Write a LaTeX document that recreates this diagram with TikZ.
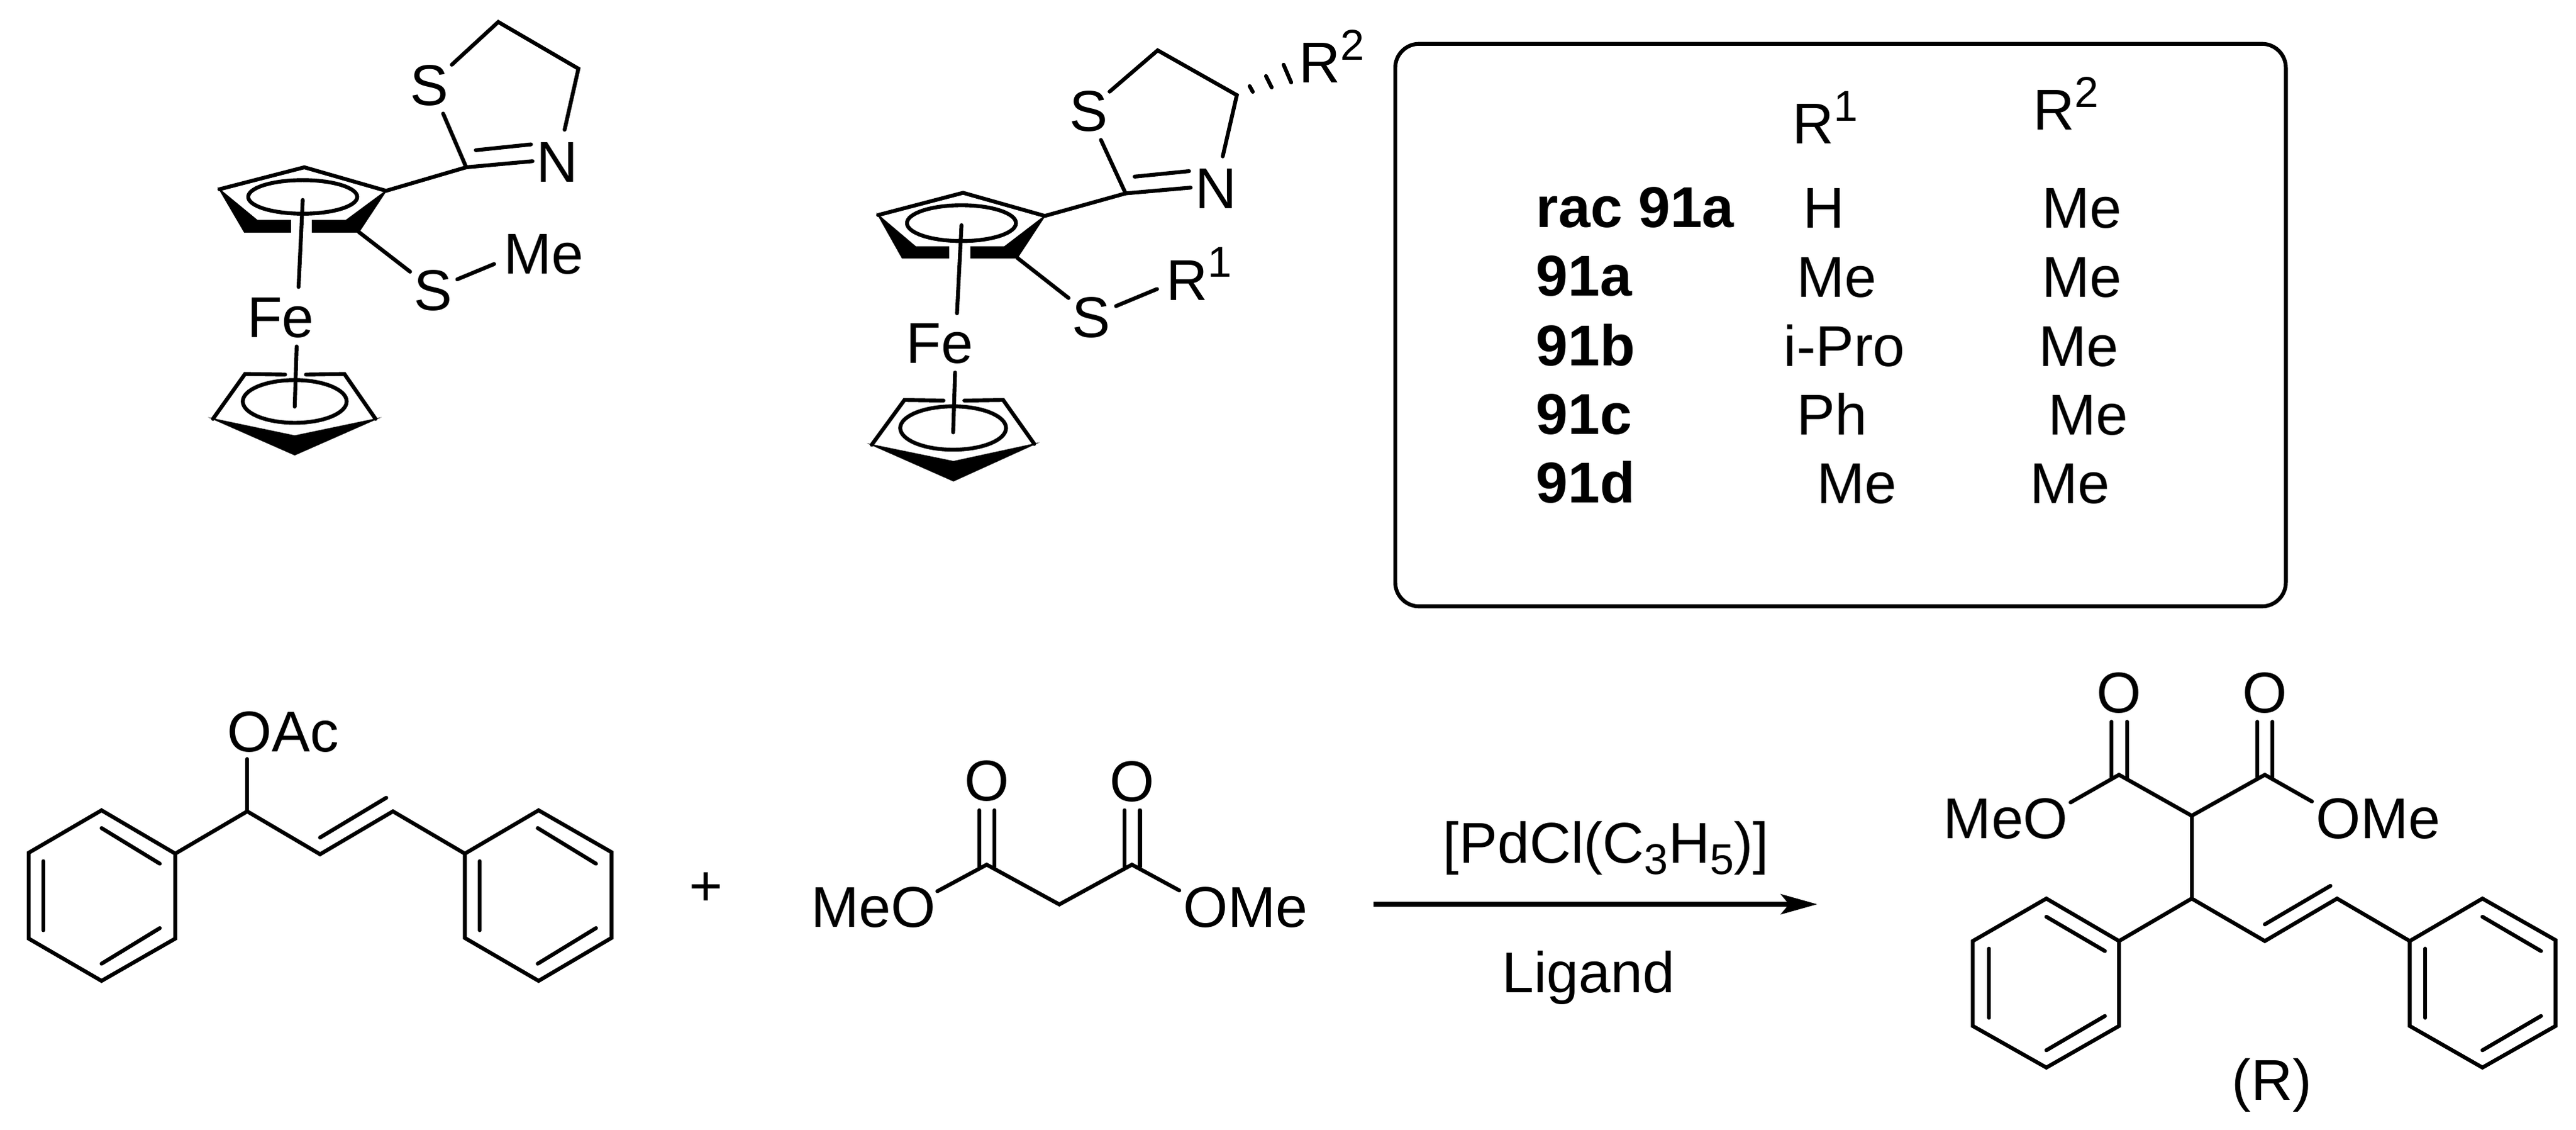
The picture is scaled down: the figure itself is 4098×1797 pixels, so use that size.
\documentclass[tikz,border=0pt]{standalone}
\usepackage{fontspec}
\setmainfont{Liberation Sans}
\usetikzlibrary{arrows.meta}
\newcommand\chemsup[1]{\raisebox{10.4pt}{\fontsize{19.5}{20}\selectfont #1}}
\newcommand\chemsub[1]{\raisebox{-5.2pt}{\fontsize{19.5}{20}\selectfont #1}}
\tikzset{
  bond/.style={line width=1.75pt,line cap=round,line join=miter,draw=black},
  wedge/.style={fill=black,draw=black,line width=0.5pt,line join=miter},
  atom/.style={font=\fontsize{26}{30}\selectfont,inner sep=0pt,anchor=base,text=black},
  lab/.style={atom,anchor=base west},
  blab/.style={lab,font=\fontsize{26}{30}\selectfont\bfseries},
  panel/.style={draw=black,line width=1.75pt,rounded corners=0.38cm},
  rxn/.style={draw=black,line width=2pt,-{Stealth[length=0.58cm,width=0.32cm,inset=0.13cm]}}
}
\begin{document}
\begin{tikzpicture}[x=0.01cm,y=-0.01cm]
\useasboundingbox (0,0) rectangle (4098,1797);
\fill[white] (0,0) rectangle (4098,1797);

% ---------- ferrocene 1
\begin{scope}[x=0.005102cm,y=-0.004847cm,shift={(2.8cm,0cm)}]
\coordinate (a1) at (135,620); \coordinate (a2) at (400,548); \coordinate (a3) at (655,625);
\coordinate (a4) at (570,760); \coordinate (a5) at (213,760);
\coordinate (c2) at (905,548); \coordinate (ch1) at (1005,72); \coordinate (ch2) at (1255,225);
\node[atom] (af) at (326,1105) {Fe};
\node[atom] (as1) at (790,345) {S};
\node[atom] (an) at (1190,597) {N};
\node[atom] (as2) at (802,1017) {S};
\node[atom] (ame) at (1147,898) {Me};
\fill[wedge] (a1) -- (a5) -- (357,760) -- (357,722) -- (253,722) -- cycle;
\fill[wedge] (a3) -- (a4) -- (425,760) -- (425,722) -- (530,722) -- cycle;
\draw[bond] (a1) -- (a2) -- (a3) -- (c2);
\draw[bond] (395,645) ellipse [x radius=170,y radius=55];
\draw[bond] (395,655) -- (382,940);
\draw[bond] (376,1135) -- (370,1332);
\draw[bond] (340,1227) -- (215,1225) -- (115,1372);
\draw[bond] (405,1227) -- (525,1225) -- (622,1372);
\fill[wedge] (115,1372) -- (370,1490) -- (625,1372) -- (370,1428) -- cycle;
\draw[bond] (370,1315) ellipse [x radius=162,y radius=70];
\draw[bond] (833,372) -- (c2) -- (1112,528);
\draw[bond] (935,492) -- (1107,473);
\draw[bond] (860,212) -- (ch1) -- (ch2) -- (1212,425);
\draw[bond] (a4) -- (730,890);
\draw[bond] (877,915) -- (992,865);
\end{scope}

% ---------- ferrocene 2
\begin{scope}[x=0.005102cm,y=-0.004591cm,shift={(12.8cm,-0.8cm)}]
\coordinate (b1) at (228,570); \coordinate (b2) at (493,493); \coordinate (b3) at (748,573);
\coordinate (b4) at (662,718); \coordinate (b5) at (303,718);
\coordinate (d2) at (1000,495); \coordinate (dh1) at (1100,0); \coordinate (dh2) at (1347,155);
\node[atom] (bf) at (420,1083) {Fe};
\node[atom] (bs1) at (884,280) {S};
\node[atom] (bn) at (1282,547) {N};
\node[atom] (bs2) at (893,993) {S};
\node[lab] (br1) at (1126,865) {R\chemsup{1}};
\fill[wedge] (b1) -- (b5) -- (448,718) -- (448,680) -- (345,680) -- cycle;
\fill[wedge] (b3) -- (b4) -- (517,718) -- (517,680) -- (622,680) -- cycle;
\draw[bond] (b1) -- (b2) -- (b3) -- (d2);
\draw[bond] (488,598) ellipse [x radius=170,y radius=62];
\draw[bond] (488,605) -- (474,910);
\draw[bond] (468,1115) -- (462,1322);
\draw[bond] (432,1212) -- (310,1210) -- (208,1365);
\draw[bond] (497,1212) -- (618,1210) -- (715,1362);
\fill[wedge] (208,1365) -- (463,1490) -- (717,1362) -- (463,1423) -- cycle;
\draw[bond] (462,1307) ellipse [x radius=165,y radius=75];
\draw[bond] (923,310) -- (d2) -- (1203,475);
\draw[bond] (1028,437) -- (1198,418);
\draw[bond] (950,143) -- (dh1) -- (dh2) -- (1303,367);
\draw[bond] (b4) -- (822,857);
\draw[bond] (970,885) -- (1098,826);
\end{scope}
\node[lab] (br2) at (2066,132) {R\chemsup{2}};
\draw[bond] (1988,137) -- (1993,146);
\draw[bond] (2014,121) -- (2023,139);
\draw[bond] (2042,103) -- (2054,131);

% ---------- table
\node[panel,minimum width=14.16cm,minimum height=8.94cm,inner sep=0pt] (tbl) at (2928,517) {};
\node[lab] (hr1) at (2851,229) {R\chemsup{1}};
\node[lab] (hr2) at (3234,207) {R\chemsup{2}};
\node[blab] (r1a) at (2443,362) {rac 91a};
\node[blab] (r2a) at (2443,471) {91a};
\node[blab] (r3a) at (2443,581) {91b};
\node[blab] (r4a) at (2443,690) {91c};
\node[blab] (r5a) at (2443,799) {91d};
\node[lab] (r1b) at (2868,363) {H};
\node[lab] (r2b) at (2858,472) {Me};
\node[lab] (r3b) at (2837,582) {i-Pro};
\node[lab] (r4b) at (2858,691) {Ph};
\node[lab] (r5b) at (2890,800) {Me};
\node[lab] (r1c) at (3248,363) {Me};
\node[lab] (r2c) at (3248,472) {Me};
\node[lab] (r3c) at (3243,582) {Me};
\node[lab] (r4c) at (3258,691) {Me};
\node[lab] (r5c) at (3229,800) {Me};

% ---------- substrate
\begin{scope}[x=0.007015cm,y=-0.003333cm,shift={(0cm,-10.8cm)}]
\node[atom] (oac) at (641,345) {OAc};
\coordinate (e1) at (230,625); \coordinate (e2) at (397,832); \coordinate (e3) at (397,1238);
\coordinate (e4) at (230,1440); \coordinate (e5) at (65,1238); \coordinate (e6) at (65,828);
\coordinate (f1) at (1220,625); \coordinate (f2) at (1385,825); \coordinate (f3) at (1385,1235);
\coordinate (f4) at (1220,1440); \coordinate (f5) at (1053,1235); \coordinate (f6) at (1053,832);
\coordinate (g1) at (560,630); \coordinate (g2) at (725,835); \coordinate (g3) at (890,630);
\draw[bond] (e1) -- (e2) -- (e3) -- (e4) -- (e5) -- (e6) -- cycle;
\draw[bond] (f1) -- (f2) -- (f3) -- (f4) -- (f5) -- (f6) -- cycle;
\draw[bond] (e2) -- (g1) -- (g2) -- (g3) -- (f6);
\draw[bond] (g1) -- (560,380);
\draw[bond] (725,755) -- (875,565);
\draw[bond] (230,710) -- (362,880);
\draw[bond] (98,868) -- (98,1198);
\draw[bond] (230,1358) -- (362,1188);
\draw[bond] (1218,710) -- (1350,880);
\draw[bond] (1087,868) -- (1087,1198);
\draw[bond] (1218,1358) -- (1350,1188);
\end{scope}

\node[font=\fontsize{26}{30}\selectfont,inner sep=0pt] (plus) at (1123,1414) {+};

% ---------- malonate
\begin{scope}[x=0.006378cm,y=-0.003333cm,shift={(11cm,-10.4cm)}]
\node[atom] (mo1) at (735,700) {O};
\node[atom] (mo2) at (1097,702) {O};
\node[atom] (mme) at (452,1305) {MeO};
\node[atom] (mom) at (1380,1303) {OMe};
\coordinate (h1) at (735,1005); \coordinate (h2) at (916,1195); \coordinate (h3) at (1097,1005);
\draw[bond] (612,1132) -- (h1) -- (h2) -- (h3) -- (1215,1128);
\draw[bond] (716,745) -- (716,1015);
\draw[bond] (754,745) -- (754,1015);
\draw[bond] (1079,745) -- (1079,1015);
\draw[bond] (1117,745) -- (1117,1015);
\end{scope}

% ---------- arrow
\coordinate (arrL) at (2185,1438);
\coordinate (arrR) at (2891,1438);
\draw[rxn] (arrL) -- (arrR);
\node[atom] (pd) at (2555,1372) {[PdCl(C\chemsub{3}H\chemsub{5})]};
\node[atom] (lig) at (2527,1578) {Ligand};

% ---------- product
\begin{scope}[x=0.007003cm,y=-0.004829cm,shift={(30cm,-10.4cm)}]
\node[atom] (po1) at (527,192) {O};
\node[atom] (po2) at (858,192) {O};
\node[atom] (pme) at (270,607) {MeO};
\node[atom] (pom) at (1115,607) {OMe};
\node[atom] (pr) at (874,1470) {(R)};
\coordinate (i1) at (527,397); \coordinate (i2) at (692,532); \coordinate (i3) at (858,397);
\coordinate (i4) at (692,805); \coordinate (i5) at (858,945); \coordinate (i6) at (1022,805);
\coordinate (j1) at (362,805); \coordinate (j2) at (527,945); \coordinate (j3) at (527,1225);
\coordinate (j4) at (362,1362); \coordinate (j5) at (195,1225); \coordinate (j6) at (195,945);
\coordinate (k1) at (1352,805); \coordinate (k2) at (1518,942); \coordinate (k3) at (1518,1225);
\coordinate (k4) at (1352,1362); \coordinate (k5) at (1187,1225); \coordinate (k6) at (1187,945);
\draw[bond] (417,488) -- (i1) -- (i2) -- (i3) -- (965,485);
\draw[bond] (i2) -- (i4);
\draw[bond] (510,222) -- (510,405);
\draw[bond] (545,222) -- (545,405);
\draw[bond] (841,222) -- (841,405);
\draw[bond] (875,222) -- (875,405);
\draw[bond] (j1) -- (j2) -- (j3) -- (j4) -- (j5) -- (j6) -- cycle;
\draw[bond] (k1) -- (k2) -- (k3) -- (k4) -- (k5) -- (k6) -- cycle;
\draw[bond] (j2) -- (i4) -- (i5) -- (i6) -- (k6);
\draw[bond] (858,890) -- (1007,763);
\draw[bond] (362,865) -- (495,978);
\draw[bond] (232,970) -- (232,1198);
\draw[bond] (362,1305) -- (495,1192);
\draw[bond] (1352,865) -- (1485,978);
\draw[bond] (1222,970) -- (1222,1198);
\draw[bond] (1352,1305) -- (1485,1192);
\end{scope}
\end{tikzpicture}
\end{document}
